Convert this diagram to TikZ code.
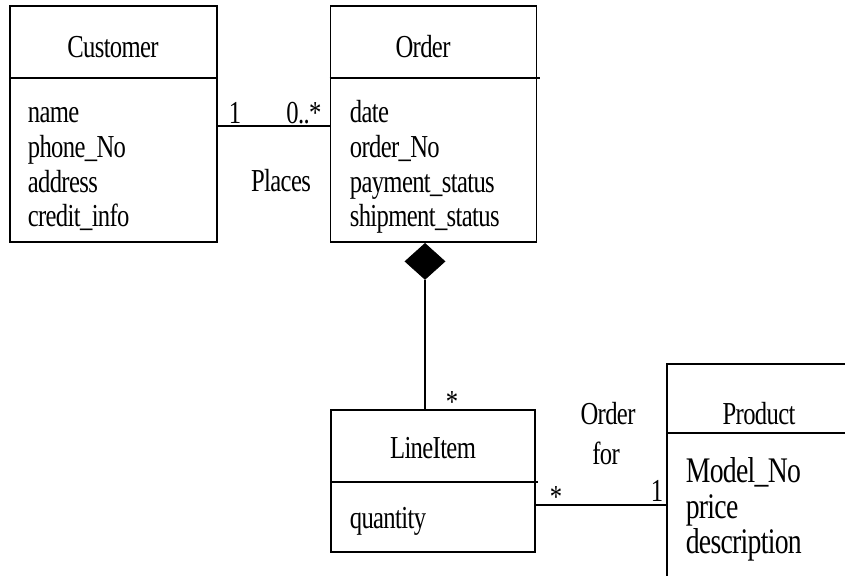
\documentclass[tikz,border=0pt]{standalone}
\usepackage{fontspec}
\setmainfont{Liberation Serif}[FakeStretch=0.77, LetterSpace=-2]
\usetikzlibrary{shapes.geometric}
\begin{document}
\begin{tikzpicture}[x=1pt,y=-1pt,
  line width=1.6pt,
  classbox/.style={draw, rectangle, inner sep=0pt},
  lbl/.style={inner sep=0pt, font=\fontsize{32}{36}\selectfont},
  bigl/.style={inner sep=0pt, font=\fontsize{36}{40}\selectfont},
  attr/.style={lbl, anchor=base west},
  head/.style={lbl, anchor=base}]
\useasboundingbox (0,0) rectangle (845,575);
\clip (0,0) rectangle (845,575);

% class boxes
\node[classbox, minimum width=207pt, minimum height=236pt] (cust) at (113.5,124) {};
\node[classbox, minimum width=206pt, minimum height=236pt] (ord) at (433.5,124) {};
\node[classbox, minimum width=204pt, minimum height=142pt] (li) at (433,481) {};
\node[classbox, minimum width=220pt, minimum height=250pt] (prod) at (777,489) {};

% compartment dividers
\draw (cust.west |- 0,78) -- (cust.east |- 0,78);
\draw (ord.west |- 0,78) -- (540,78);
\draw (li.west |- 0,482) -- (538,482);
\draw (prod.west |- 0,433) -- (845,433);

% class names
\node[head] (custname) at (113,58) {Customer};
\node[head] (ordname) at (423,58) {Order};
\node[head] (liname) at (433,458) {LineItem};
\node[head] (prodname) at (759,424) {Product};

% attributes
\node[attr] (a1) at (27,122) {name};
\node[attr] (a2) at (27,157) {phone\_No};
\node[attr] (a3) at (27,192) {address};
\node[attr] (a4) at (27,226) {credit\_info};
\node[attr] (b1) at (349,122) {date};
\node[attr] (b2) at (349,157) {order\_No};
\node[attr] (b3) at (349,192) {payment\_status};
\node[attr] (b4) at (349,226) {shipment\_status};
\node[attr] (c1) at (349,528) {quantity};
\node[bigl, anchor=base west] (d1) at (685,482) {Model\_No};
\node[bigl, anchor=base west] (d2) at (685,518) {price};
\node[bigl, anchor=base west] (d3) at (685,553) {description};

% Places association
\coordinate (pl) at (cust.east |- 0,126);
\coordinate (pr) at (ord.west |- 0,126);
\draw (pl) -- (pr);
\node[lbl, anchor=base] (m1) at (235,124) {1};
\node[lbl, anchor=base] (m2) at (304,124) {0..*};
\node[lbl, anchor=base] (places) at (281,191) {Places};

% composition Order <>-- LineItem
\node[diamond, draw, fill=black, line width=0.8pt, minimum width=40pt, minimum height=36pt, inner sep=0pt, anchor=north] (dia) at (425,243) {};
\draw (dia.south) -- (dia.south |- li.north);
\node[lbl, anchor=center] (m3) at (452,402) {*};

% Order for association
\coordinate (ql) at (li.east |- 0,505);
\coordinate (qr) at (prod.west |- 0,505);
\draw (ql) -- (qr);
\node[lbl, anchor=center] (m4) at (556,497) {*};
\node[lbl, anchor=base] (m5) at (657,501) {1};
\node[lbl, anchor=base] (of1) at (608,424) {Order};
\node[lbl, anchor=base] (of2) at (606,464) {for};
\end{tikzpicture}
\end{document}
